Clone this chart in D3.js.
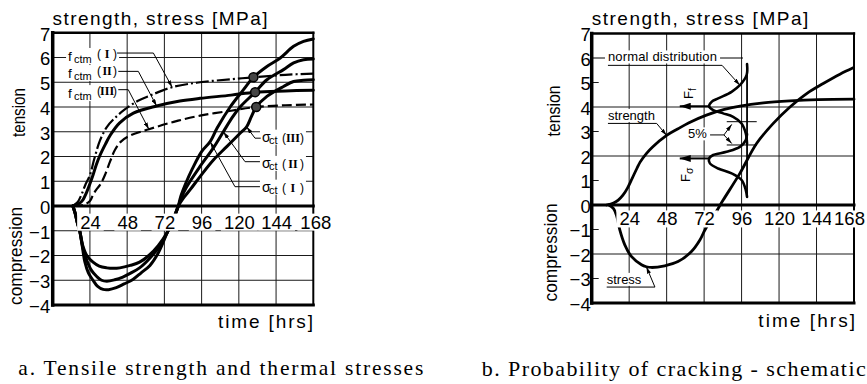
<!DOCTYPE html>
<html>
<head>
<meta charset="utf-8">
<script src="https://cdn.jsdelivr.net/npm/d3@7"></script>
<style>
  html, body { margin: 0; padding: 0; background: #fff; }
  svg { display: block; }
  text { fill: #000; }
</style>
</head>
<body>
<svg id="fig" width="867" height="384"></svg>
<script>
// ---------- shared axes ----------
const hourTicks = [24, 48, 72, 96, 120, 144, 168];
const mpaTicks = [-4, -3, -2, -1, 0, 1, 2, 3, 4, 5, 6, 7];

// ---------- panel a: tensile strength f_ctm [hours, MPa] ----------
const fctmI = [[13,0],[16,0.15],[18.5,0.45],[21,0.85],[24,1.25],[27,1.95],[30.5,2.65],[35,3.2],[40,3.55],[46.5,3.9],[55,4.25],[63,4.47],[77,4.8],[95,5.0],[115,5.12],[129.4,5.2],[150,5.3],[168,5.35]];
const fctmII = [[13,0],[17,0.1],[19.5,0.25],[21.5,0.5],[24,0.9],[26,1.25],[28,1.65],[30.5,2.05],[34,2.5],[37,2.85],[43,3.35],[52,3.75],[67,4.04],[82,4.24],[95,4.35],[115,4.48],[130.5,4.6],[150,4.65],[168,4.68]];
const fctmIII = [[13,0],[20,0.05],[24,0.2],[26,0.45],[28,0.65],[31,0.9],[34,1.3],[37,1.8],[40,2.25],[44,2.6],[50,2.85],[62,3.1],[78,3.4],[95,3.65],[115,3.85],[131.2,4.0],[150,4.07],[168,4.1]];

// thermal stress sigma_ct [hours, MPa]
const sigmaI = [[13,0],[14.5,-0.3],[16,-0.7],[17.4,-1.0],[19,-1.6],[20.7,-2.25],[23,-2.7],[26,-3.0],[29,-3.25],[32.5,-3.37],[36,-3.38],[41,-3.3],[46,-3.15],[51.7,-2.97],[57,-2.7],[62.7,-2.4],[68,-1.9],[74,-1.05],[78,-0.5],[81,0],[82.5,0.38],[86,0.95],[90,1.5],[96,2.2],[101.5,2.6],[106,3.15],[114.4,4.0],[123,4.7],[129.4,5.2],[138.1,5.64],[146.7,5.98],[155.3,6.45],[161.7,6.65],[168,6.75]];
const sigmaII = [[13,0],[14.5,-0.3],[16,-0.7],[17.4,-1.0],[19.5,-1.7],[22,-2.2],[25,-2.6],[28.4,-2.85],[31.5,-3.0],[34.9,-3.04],[40,-2.98],[45.2,-2.87],[50,-2.72],[56,-2.5],[62,-2.15],[68,-1.7],[74,-1.05],[78,-0.5],[81,0],[83,0.35],[86.4,0.78],[95,1.6],[103.6,2.35],[110,3.0],[116,3.6],[120.8,4.0],[130.5,4.6],[138.1,5.1],[148.8,5.51],[155.3,5.78],[161.7,5.91],[168,5.94]];
const sigmaIII = [[13,0],[14.5,-0.3],[16,-0.7],[17.4,-1.0],[19.4,-1.6],[22,-2.0],[26,-2.27],[30,-2.43],[34.9,-2.5],[39,-2.52],[43.3,-2.5],[50,-2.4],[56,-2.27],[62,-2.0],[68,-1.6],[74,-1.05],[78,-0.5],[81,0],[84,0.3],[88.5,0.65],[95,1.19],[103.6,1.86],[112.2,2.4],[120.8,2.94],[125,3.2],[128,3.6],[131.2,4.0],[138.1,4.43],[148.8,4.83],[155.3,5.03],[161.7,5.08],[168,5.1]];

// first cracking: where stress reaches strength
const crackHours = [129.4, 130.5, 131.2];
const crackMpa = [5.2, 4.6, 4.0];

// ---------- panel b: schematic strength / stress [hours, MPa] ----------
const strengthB = [[9.5,0],[14,0.08],[17,0.2],[20,0.4],[23,0.7],[26,1.1],[29,1.5],[31,1.75],[35,2.1],[39,2.37],[48,2.84],[55,3.1],[62,3.35],[73.5,3.67],[85,3.9],[95,4.04],[110,4.17],[127,4.25],[145,4.3],[168,4.32]];
const stressB = [[11,0],[14,-0.15],[16,-0.45],[18,-1.02],[21.2,-1.63],[25.4,-2.1],[31.9,-2.44],[35,-2.52],[38.3,-2.55],[46.8,-2.48],[55.3,-2.31],[63.9,-1.9],[69.3,-1.43],[72.5,-1.02],[77,-0.55],[81,-0.14],[84.2,0.2],[94.9,1.29],[105.6,2.51],[116.3,3.33],[127,4.0],[137.7,4.55],[148.3,4.96],[159,5.34],[167.5,5.6]];

// normal distributions drawn sideways against the time line at ~99.5 h
const distStrength = [[99.5,5.75],[99.2,5.3],[94.9,4.89],[89.6,4.62],[81,4.35],[76.8,4.21],[75.2,4.03],[77.8,3.87],[84.2,3.74],[90.6,3.6],[96,3.33],[98.7,2.92],[99.5,2.5]];
const distStress = [[99.5,2.9],[98.7,2.65],[94.9,2.37],[86.4,2.17],[77.8,2.04],[75.2,1.9],[75.7,1.7],[81,1.49],[89.6,1.29],[96,1.02],[98.7,0.61],[99.5,0.33]];
const distLine = [[99.5,0.33],[99.5,5.75]];
const fractileMpa = [3.4, 2.45];      // 5 % band limits
const fractileHours = [86.5, 105.7];

// ---------- drawing ----------
const SANS = "'Liberation Sans', Arial, sans-serif";
const SERIF = "'Liberation Serif', 'Times New Roman', serif";
const svg = d3.select("#fig").attr("font-family", SANS);

const defs = svg.append("defs");
function addMarker(id, len, wid) {
  defs.append("marker").attr("id", id)
    .attr("viewBox", `0 0 ${len} ${wid}`)
    .attr("refX", len).attr("refY", wid / 2)
    .attr("markerWidth", len).attr("markerHeight", wid)
    .attr("markerUnits", "userSpaceOnUse").attr("orient", "auto")
    .append("path").attr("d", `M0,0L${len},${wid / 2}L0,${wid}Z`).attr("fill", "#000");
}
addMarker("tip", 7, 4);
addMarker("bigTip", 11, 7);

const xA = d3.scaleLinear().domain([0, 168]).range([52.7, 313.3]);
const yA = d3.scaleLinear().domain([-4, 7]).range([305, 32.75]);
const xB = d3.scaleLinear().domain([0, 168]).range([591.7, 854]);
const yB = d3.scaleLinear().domain([-4, 7]).range([303, 33.5]);

const smooth = d3.curveCatmullRom.alpha(0.5);

function panelFrame(x, y, gridMpa, stubMpa) {
  const g = svg.append("g");
  const [x0, x1] = x.range();
  const [yb, yt] = y.range();
  const grid = g.append("g").attr("stroke", "#1a1a1a").attr("stroke-width", 1);
  grid.selectAll(null).data(hourTicks.filter(h => h < 168)).join("line")
    .attr("x1", d => x(d)).attr("x2", d => x(d)).attr("y1", yt).attr("y2", yb);
  grid.selectAll(null).data(gridMpa).join("line")
    .attr("x1", x0).attr("x2", x1).attr("y1", d => y(d)).attr("y2", d => y(d));
  grid.selectAll(null).data(stubMpa).join("line")
    .attr("x1", x0).attr("x2", x0 + 7).attr("y1", d => y(d)).attr("y2", d => y(d));
  const frame = g.append("g").attr("stroke", "#000").attr("stroke-linecap", "square");
  frame.append("line").attr("x1", x0).attr("x2", x1).attr("y1", yt).attr("y2", yt).attr("stroke-width", 2.4);
  frame.append("line").attr("x1", x1).attr("x2", x1).attr("y1", yt).attr("y2", yb).attr("stroke-width", 2);
  frame.append("line").attr("x1", x0).attr("x2", x1).attr("y1", yb).attr("y2", yb).attr("stroke-width", 3);
  frame.append("line").attr("x1", x0).attr("x2", x1).attr("y1", y(0)).attr("y2", y(0)).attr("stroke-width", 3);
  frame.append("line").attr("x1", x0).attr("x2", x0).attr("y1", yt).attr("y2", yb).attr("stroke-width", 3.5);
  return g;
}

function curve(g, x, y, pts, width, dash) {
  g.append("path").datum(pts)
    .attr("fill", "none").attr("stroke", "#000").attr("stroke-width", width)
    .attr("stroke-linejoin", "round").attr("stroke-linecap", dash ? "butt" : "round")
    .attr("stroke-dasharray", dash || null)
    .attr("d", d3.line().x(d => x(d[0])).y(d => y(d[1])).curve(smooth));
}

function axes(g, x, y, xPad, yPad, lastShift) {
  const xa = g.append("g").attr("transform", `translate(0,${y(0)})`)
    .call(d3.axisBottom(x).tickValues(hourTicks).tickSize(0).tickPadding(xPad));
  xa.attr("font-family", SANS).attr("font-size", 18.5);
  xa.select(".domain").remove();
  xa.selectAll(".tick text").filter(d => d === 168).attr("dx", lastShift || 0);
  xa.selectAll(".tick").each(function () {
    const tick = d3.select(this);
    const b = tick.select("text").node().getBBox();
    tick.insert("rect", "text")
      .attr("x", b.x - 3).attr("y", b.y + 2).attr("width", b.width + 6).attr("height", b.height - 4)
      .attr("fill", "#fff");
  });
  const ya = g.append("g").attr("transform", `translate(${x.range()[0]},0)`)
    .call(d3.axisLeft(y).tickValues(mpaTicks).tickSize(0).tickPadding(yPad));
  ya.attr("font-family", SANS).attr("font-size", 18.5);
  ya.select(".domain").remove();
  ya.selectAll("text").attr("dy", "0.4em");
}

// label on a white patch, so grid lines stop at the text
function boxed(parent, build, pad = 2) {
  const g = parent.append("g");
  build(g);
  const b = g.node().getBBox();
  g.insert("rect", ":first-child")
    .attr("x", b.x - pad).attr("y", b.y + 1).attr("width", b.width + 2 * pad).attr("height", b.height - 2)
    .attr("fill", "#fff");
  return g;
}

function leader(g, pts, marker, width) {
  g.append("path").attr("d", d3.line()(pts))
    .attr("fill", "none").attr("stroke", "#000").attr("stroke-width", width || 1)
    .attr("marker-end", marker ? `url(#${marker})` : null);
}

function numeralGroup(lg, left, right, base, numeral) {
  lg.append("text").attr("x", left).attr("y", base).attr("font-size", 12).text("(");
  lg.append("text").attr("x", (left + right) / 2).attr("y", base).attr("text-anchor", "middle")
    .attr("font-family", SERIF).attr("font-weight", "bold").attr("font-size", 12).text(numeral);
  lg.append("text").attr("x", right).attr("y", base).attr("text-anchor", "end").attr("font-size", 12).text(")");
}

function fctmLabel(g, ax, ay, numeral) {
  boxed(g, lg => {
    lg.append("text").attr("x", ax).attr("y", ay).attr("font-size", 13.5).text("f");
    lg.append("text").attr("x", ax + 6).attr("y", ay + 2).attr("font-size", 11).text("ctm");
    numeralGroup(lg, ax + 29, ax + 49, ay - 3, numeral);
  });
}

function sigmaLabel(g, ax, ay, numeral) {
  boxed(g, lg => {
    lg.append("text").attr("x", ax).attr("y", ay).attr("font-size", 14).text("σ");
    lg.append("text").attr("x", ax + 7).attr("y", ay + 2).attr("font-size", 11).text("ct");
    numeralGroup(lg, ax + 20, ax + 42, ay, numeral);
  });
}

function plainText(x, y, s, size, len, family) {
  return svg.append("text").attr("x", x).attr("y", y)
    .attr("font-size", size).attr("font-family", family || SANS)
    .attr("textLength", len).attr("lengthAdjust", "spacing").text(s);
}

function rotatedText(x, y, s, size, len) {
  svg.append("text").attr("transform", `translate(${x},${y}) rotate(-90)`)
    .attr("text-anchor", "middle").attr("font-size", size)
    .attr("textLength", len).attr("lengthAdjust", "spacingAndGlyphs").text(s);
}

// ===== panel a =====
const gA = panelFrame(xA, yA, [-3, -2, -1, 1, 2, 3, 4, 5, 6], []);
curve(gA, xA, yA, fctmI, 2.2, "13,3,2,3");
curve(gA, xA, yA, fctmII, 3);
curve(gA, xA, yA, fctmIII, 2.2, "10,4");
curve(gA, xA, yA, sigmaI, 3);
curve(gA, xA, yA, sigmaII, 3);
curve(gA, xA, yA, sigmaIII, 3);
gA.selectAll(null).data(crackHours).join("circle")
  .attr("cx", d => xA(d)).attr("cy", (d, i) => yA(crackMpa[i])).attr("r", 4.5)
  .attr("fill", "#444").attr("stroke", "#000").attr("stroke-width", 1.5);
axes(gA, xA, yA, 9.5, 2.5, 2);

fctmLabel(gA, xA(9.9), yA(5.86), "I");
fctmLabel(gA, xA(9.9), yA(5.17), "II");
fctmLabel(gA, xA(9.9), yA(4.36), "III");
leader(gA, [[xA(41.5), yA(6.18)], [xA(64.9), yA(6.18)], [xA(77), yA(4.8)]], "tip");
leader(gA, [[xA(42.3), yA(5.44)], [xA(55.2), yA(5.44)], [xA(67), yA(4.04)]], "tip");
leader(gA, [[xA(42.3), yA(4.7)], [xA(48.7), yA(4.7)], [xA(62), yA(3.1)]], "tip");

sigmaLabel(gA, xA(134.9), yA(2.6), "III");
sigmaLabel(gA, xA(134.9), yA(1.54), "II");
sigmaLabel(gA, xA(134.9), yA(0.58), "I");
leader(gA, [[xA(134.1), yA(2.74)], [xA(130.4), yA(2.74)], [xA(125), yA(3.2)]], "tip");
leader(gA, [[xA(133.6), yA(1.79)], [xA(124), yA(1.79)], [xA(110), yA(3.0)]], "tip");
leader(gA, [[xA(133.6), yA(0.78)], [xA(117.5), yA(0.78)], [xA(101.5), yA(2.6)]], "tip");

plainText(52.5, 24.5, "strength, stress [MPa]", 19, 215);
rotatedText(25, 112.5, "tension", 19, 49);
rotatedText(21.7, 256, "compression", 19, 98);
plainText(218, 327.5, "time [hrs]", 19, 95);
plainText(18.3, 375, "a. Tensile strength and thermal stresses", 21.5, 405, SERIF);

// ===== panel b =====
const gB = panelFrame(xB, yB, [-2, 2, 4], [-3, -1, 1, 3, 5]);
curve(gB, xB, yB, strengthB, 2.8);
curve(gB, xB, yB, stressB, 2.8);
curve(gB, xB, yB, distLine, 1.8);
curve(gB, xB, yB, distStrength, 2.6);
curve(gB, xB, yB, distStress, 2.6);
gB.selectAll(null).data(fractileMpa).join("line")
  .attr("x1", xB(fractileHours[0])).attr("x2", xB(fractileHours[1]))
  .attr("y1", d => yB(d)).attr("y2", d => yB(d))
  .attr("stroke", "#000").attr("stroke-width", 1);
axes(gB, xB, yB, 7.3, 1, -5);

// F arrows from the distribution peaks back to the time axis side
leader(gB, [[xB(75.2), yB(4.03)], [xB(56.4), yB(4.03)]], "bigTip", 2);
leader(gB, [[xB(75.2), yB(1.9)], [xB(56.4), yB(1.9)]], "bigTip", 2);

boxed(gB, lg => lg.append("text").attr("x", xB(10.4)).attr("y", yB(5.86)).attr("font-size", 13).attr("textLength", 109).attr("lengthAdjust", "spacing").text("normal distribution"));
leader(gB, [[xB(0), yB(6)], [xB(8.5), yB(6)]]);
leader(gB, [[xB(82.2), yB(6)], [xB(96.9), yB(6)]]);
leader(gB, [[xB(10.4), yB(5.7)], [xB(83.5), yB(5.7)], [xB(94.9), yB(4.89)]], "tip");

boxed(gB, lg => lg.append("text").attr("x", xB(10.4)).attr("y", yB(3.47)).attr("font-size", 13).text("strength"));
leader(gB, [[xB(10.4), yB(3.33)], [xB(41.6), yB(3.33)], [xB(48), yB(2.84)]], "tip");

boxed(gB, lg => lg.append("text").attr("x", xB(9.6)).attr("y", yB(-3.22)).attr("font-size", 13).text("stress"));
leader(gB, [[xB(9.6), yB(-3.35)], [xB(40.5), yB(-3.35)], [xB(35), yB(-2.52)]], "tip");

boxed(gB, lg => lg.append("text").attr("x", xB(61.7)).attr("y", yB(2.72)).attr("font-size", 13).text("5%"));
leader(gB, [[xB(75.8), yB(2.86)], [xB(84.7), yB(2.86)], [xB(89.7), yB(3.29)]], "tip");
leader(gB, [[xB(84.7), yB(2.86)], [xB(89.7), yB(2.51)]], "tip");

const ff = gB.append("text").attr("transform", `translate(${xB(64.9)},${yB(4.33)}) rotate(-90)`).attr("font-size", 13);
ff.append("tspan").text("F");
ff.append("tspan").attr("font-size", 10).attr("dy", 3).text("f");
const fs = gB.append("text").attr("transform", `translate(${xB(63)},${yB(0.94)}) rotate(-90)`).attr("font-size", 13);
fs.append("tspan").text("F");
fs.append("tspan").attr("font-size", 10.5).attr("dy", 3).text("σ");

plainText(591.7, 24.5, "strength, stress [MPa]", 19, 216.6);
rotatedText(560, 111, "tension", 19, 51);
rotatedText(557, 252.5, "compression", 19, 98);
plainText(758.3, 326.5, "time [hrs]", 19, 96.7);
plainText(481.7, 376, "b. Probability of cracking - schematic", 22, 384, SERIF);
</script>
</body>
</html>
